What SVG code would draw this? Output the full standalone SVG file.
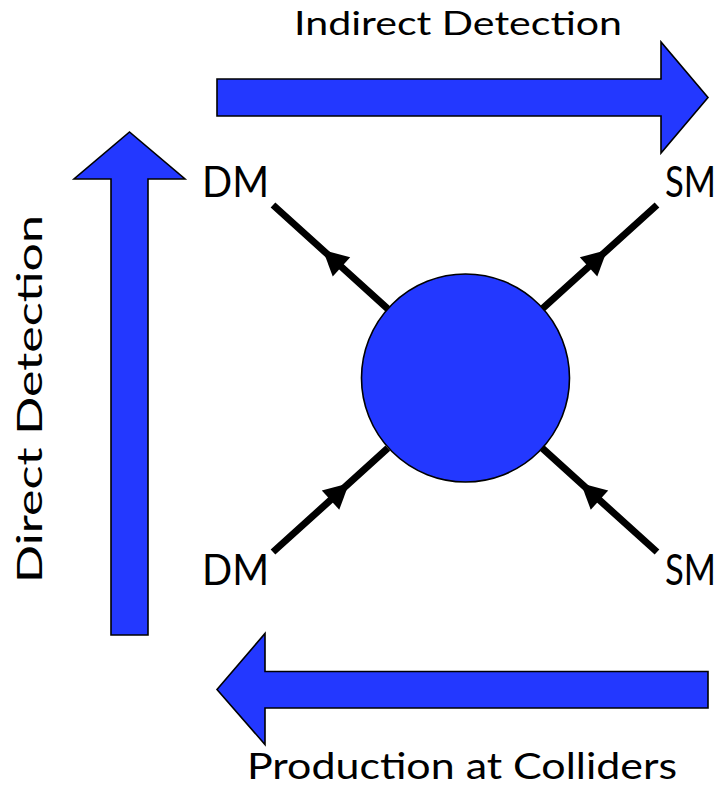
<svg xmlns="http://www.w3.org/2000/svg" width="727" height="788" viewBox="0 0 727 788">
  <style>
    .lbl { font-family: "Lato", "Open Sans", "Liberation Sans", sans-serif; fill: #000; }
    .big { fill: #2338ff; stroke: #000; stroke-width: 1.6; stroke-linejoin: miter; }
    .leg { fill: none; stroke: #000; stroke-width: 7; marker-mid: url(#tri); }
  </style>
  <defs>
    <marker id="tri" markerUnits="userSpaceOnUse" markerWidth="30" markerHeight="30" viewBox="-15 -15 30 30" refX="0" refY="0" orient="auto" overflow="visible">
      <path d="M -12.5 -13 L 12.5 0 L -12.5 13 Z" fill="#000"/>
    </marker>
  </defs>
  <rect width="727" height="788" fill="#fff"/>

  <g id="flows">
    <g id="indirect">
      <polygon class="big" points="217,79 661,79 661,42 708,97.5 661,153 661,116 217,116"/>
      <text class="lbl" x="294" y="35" font-size="32" textLength="328" lengthAdjust="spacingAndGlyphs">Indirect Detection</text>
    </g>
    <g id="direct">
      <polygon class="big" points="111,635 111,179 74,179 129.5,132 185,179 148,179 148,635"/>
      <text class="lbl" transform="translate(42,583) rotate(-90)" x="0" y="0" font-size="34" textLength="368" lengthAdjust="spacingAndGlyphs">Direct Detection</text>
    </g>
    <g id="production">
      <polygon class="big" points="708,671.5 265,671.5 265,633.5 217,689.5 265,744.5 265,708 708,708"/>
      <text class="lbl" x="247" y="779" font-size="36" textLength="430" lengthAdjust="spacingAndGlyphs">Production at Colliders</text>
    </g>
  </g>

  <g id="connectors">
    <path class="leg" d="M 387.8 308.8 L 332.2 258.5 L 273 205"/>
    <path class="leg" d="M 542.2 308.8 L 597.8 258.5 L 657 205"/>
    <path class="leg" d="M 273 552 L 339.8 491.7 L 387.8 448.2"/>
    <path class="leg" d="M 657 552 L 590.2 491.7 L 542.2 448.2"/>
  </g>

  <g id="vertex">
    <circle cx="465.5" cy="378" r="104" fill="#2338ff" stroke="#000" stroke-width="1.6"/>
  </g>

  <g id="dm-top">
    <text class="lbl" x="202" y="197" font-size="42" textLength="67" lengthAdjust="spacingAndGlyphs">DM</text>
  </g>
  <g id="sm-top">
    <text class="lbl" x="665" y="197" font-size="42" textLength="51" lengthAdjust="spacingAndGlyphs">SM</text>
  </g>
  <g id="dm-bottom">
    <text class="lbl" x="202" y="585" font-size="42" textLength="67" lengthAdjust="spacingAndGlyphs">DM</text>
  </g>
  <g id="sm-bottom">
    <text class="lbl" x="665" y="585" font-size="42" textLength="51" lengthAdjust="spacingAndGlyphs">SM</text>
  </g>
</svg>
